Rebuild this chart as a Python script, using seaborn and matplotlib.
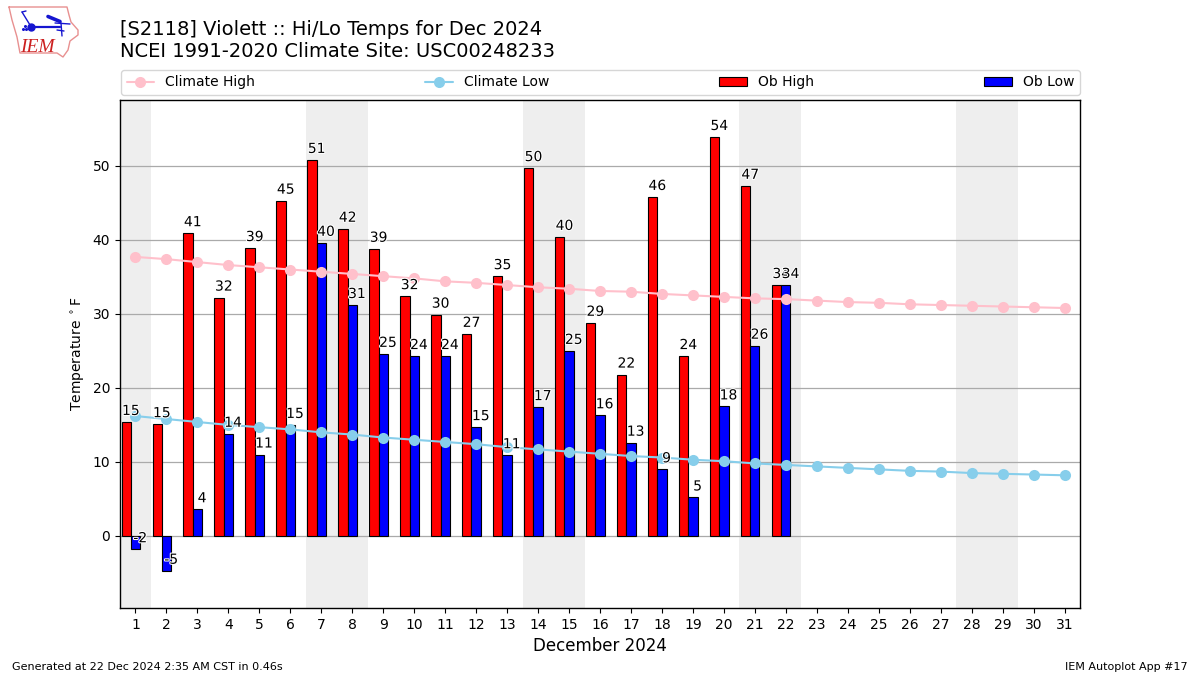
import matplotlib
matplotlib.use('Agg')
import matplotlib.pyplot as plt
import matplotlib.patheffects as pe
import numpy as np
import pandas as pd
import seaborn as sns

days = list(range(1, 32))
ob_high = [15.4, 15.1, 40.9, 32.2, 38.9, 45.3, 50.8, 41.5, 38.8, 32.4, 29.9,
           27.3, 35.1, 49.7, 40.4, 28.8, 21.8, 45.8, 24.3, 53.9, 47.3, 33.9]
ob_low = [-1.8, -4.7, 3.6, 13.8, 11.0, 15.0, 39.6, 31.2, 24.6, 24.3, 24.3,
          14.7, 10.9, 17.4, 25.0, 16.3, 12.6, 9.0, 5.2, 17.5, 25.7, 33.9]
climate_high = [37.7, 37.4, 37.0, 36.6, 36.3, 36.0, 35.7, 35.4, 35.1, 34.8, 34.4,
                34.2, 33.9, 33.6, 33.4, 33.1, 33.0, 32.7, 32.5, 32.3, 32.1, 32.0,
                31.8, 31.6, 31.5, 31.3, 31.2, 31.1, 31.0, 30.9, 30.8]
climate_low = [16.2, 15.8, 15.4, 15.0, 14.7, 14.4, 14.0, 13.7, 13.3, 13.0, 12.7,
               12.4, 12.0, 11.7, 11.4, 11.1, 10.8, 10.6, 10.3, 10.1, 9.8, 9.6,
               9.4, 9.2, 9.0, 8.8, 8.7, 8.5, 8.4, 8.3, 8.2]
# first and last day of each shaded weekend
weekends = [(1, 1), (7, 8), (14, 15), (21, 22), (28, 29)]

sns.set_style('white')
plt.rcParams['font.family'] = ['DejaVu Sans']

fig = plt.figure(figsize=(12, 6.75), dpi=100)
ax = fig.add_axes([120 / 1200, 67 / 675, 960 / 1200, 508 / 675])

for first, last in weekends:
    ax.axvspan(first - 0.5, last + 0.5, color='#eeeeee', lw=0, zorder=0)

ob_days = np.array(days[:len(ob_high)])
ax.bar(ob_days - 0.45, ob_high, width=0.3, align='edge', color='red',
       edgecolor='black', linewidth=0.8, label='Ob High', zorder=3)
ax.bar(ob_days - 0.15, ob_low, width=0.3, align='edge', color='blue',
       edgecolor='black', linewidth=0.8, label='Ob Low', zorder=3)

climate = pd.DataFrame({'day': days, 'high': climate_high, 'low': climate_low})
sns.lineplot(data=climate, x='day', y='high', color='pink', marker='o', markersize=8,
             markeredgewidth=0, linewidth=1.5, label='Climate High', ax=ax, zorder=4)
sns.lineplot(data=climate, x='day', y='low', color='skyblue', marker='o', markersize=8,
             markeredgewidth=0, linewidth=1.5, label='Climate Low', ax=ax, zorder=4)

halo = [pe.withStroke(linewidth=1.5, foreground='white')]
for d, hi, lo in zip(ob_days, ob_high, ob_low):
    ax.text(d - 0.15, hi + 0.95, f'{hi:.0f}', ha='center', va='baseline', fontsize=10,
            color='black', path_effects=halo, zorder=6)
    ax.text(d + 0.15, lo + 0.95, f'{lo:.0f}', ha='center', va='baseline', fontsize=10,
            color='black', path_effects=halo, zorder=6)

ax.set_xlim(0.5, 31.5)
ax.set_ylim(-9.73, 58.9)
ax.set_xticks(days)
ax.set_yticks(range(0, 51, 10))
ax.yaxis.grid(True, color='#aaaaaa', linewidth=0.9)
ax.set_axisbelow(True)
ax.tick_params(axis='both', which='major', length=3.5, width=0.8, labelsize=10,
               bottom=True, left=True, color='black', labelcolor='black')
for spine in ax.spines.values():
    spine.set_color('black')
    spine.set_linewidth(1)
ax.set_xlabel('December 2024', fontsize=12, color='black', labelpad=4)
ax.set_ylabel(r'Temperature $^\circ$F', fontsize=10, color='black', labelpad=4)

handles, labels = ax.get_legend_handles_labels()
order = ['Climate High', 'Climate Low', 'Ob High', 'Ob Low']
lookup = dict(zip(labels, handles))
ax.legend([lookup[k] for k in order], order, loc='lower left', ncol=4, mode='expand',
          bbox_to_anchor=(1 / 960, 1 + 5 / 508, 959 / 960, 0.102), borderaxespad=0, fontsize=10,
          frameon=True, labelcolor='black')

fig.text(120 / 1200, 1 - 35 / 675, '[S2118] Violett :: Hi/Lo Temps for Dec 2024',
         fontsize=14, color='black', va='baseline')
fig.text(120 / 1200, 1 - 57 / 675, 'NCEI 1991-2020 Climate Site: USC00248233',
         fontsize=14, color='black', va='baseline')
fig.text(12 / 1200, 1 - 670 / 675, 'Generated at 22 Dec 2024 2:35 AM CST in 0.46s',
         fontsize=8, color='black')
fig.text(1188 / 1200, 1 - 670 / 675, 'IEM Autoplot App #17', fontsize=8,
         color='black', ha='right')

# IEM logo, drawn in figure pixels
logo = fig.add_axes([0, 0, 1, 1], facecolor='none')
logo.set_xlim(0, 1200)
logo.set_ylim(675, 0)
logo.axis('off')
outline_x = [9, 67, 69, 71, 78, 78, 70, 68, 63, 57, 20, 17, 12, 9]
outline_y = [7, 7, 15, 22, 30, 35, 41, 50, 57, 53, 53, 37, 20, 7]
logo.plot(outline_x, outline_y, color='#e89090', lw=1)
logo.plot([31, 60], [26.5, 26.5], color='#1515d0', lw=1.6)
logo.plot([22, 30], [12, 25], color='#1515d0', lw=1)
logo.plot([22, 26], [12, 11], color='#1515d0', lw=1)
logo.plot([48, 60], [16.5, 21.5], color='#1515d0', lw=2.6)
logo.plot([55, 70], [23, 24], color='#1515d0', lw=1)
logo.plot([61, 62], [23, 36], color='#1515d0', lw=1)
logo.plot([57, 64], [30, 31], color='#1515d0', lw=1)
logo.plot([31], [26.5], 'o', color='#1515d0', ms=5)
logo.plot([23, 26, 24.5], [29, 29, 26], 'o', color='#1515d0', ms=1.2)
logo.text(37.5, 52, 'IEM', family='Liberation Serif', style='italic', fontsize=14,
          color='#cc2020', ha='center', va='baseline')

fig.savefig('out.png', dpi=100)
